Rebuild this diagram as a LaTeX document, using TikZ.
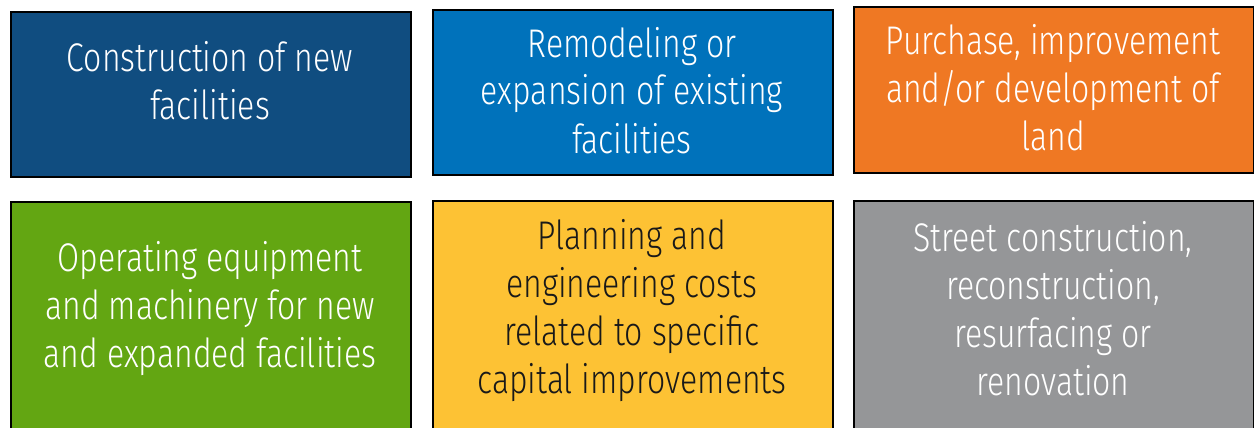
\documentclass[tikz,border=0pt]{standalone}
\usepackage{fontspec}
\setmainfont{Fira Sans Light}[FakeStretch=0.8]
\definecolor{cA}{RGB}{16,77,128}
\definecolor{cB}{RGB}{0,114,187}
\definecolor{cC}{RGB}{239,120,35}
\definecolor{cD}{RGB}{99,166,18}
\definecolor{cE}{RGB}{253,194,52}
\definecolor{cF}{RGB}{149,150,152}
\begin{document}
\begin{tikzpicture}[x=0.5pt,y=-0.5pt,
  box/.style={draw=black,line width=1.1pt,anchor=north west,inner sep=0pt,minimum width=200pt},
  lbl/.style={align=center,font=\fontsize{20}{24}\selectfont,inner sep=0pt,anchor=base,text=white}]
\useasboundingbox (0,0) rectangle (1254,428);
\node[box,fill=cA,minimum height=82.5pt] (b1) at (10,11) {};
\node[box,fill=cB,minimum height=82.75pt] (b2) at (432,8.5) {};
\node[box,fill=cC,minimum height=82.75pt] (b3) at (853,6) {};
\node[box,fill=cD,minimum height=114.5pt] (b4) at (10,201) {};
\node[box,fill=cE,minimum height=114.5pt] (b5) at (432,200) {};
\node[box,fill=cF,minimum height=114.75pt] (b6) at (853,199.5) {};
\node[lbl] (t1) at (210,119) {Construction of new\\facilities};
\node[lbl] (t2) at (632,153) {Remodeling or\\expansion of existing\\facilities};
\node[lbl] (t3) at (1053,150) {Purchase, improvement\\and/or development of\\land};
\node[lbl] (t4) at (210,367) {Operating equipment\\and machinery for new\\and expanded facilities};
\node[lbl,text=black!90] (t5) at (632,393) {Planning and\\engineering costs\\related to specific\\capital improvements};
\node[lbl] (t6) at (1053,395) {Street construction,\\reconstruction,\\resurfacing or\\renovation};
\end{tikzpicture}
\end{document}
